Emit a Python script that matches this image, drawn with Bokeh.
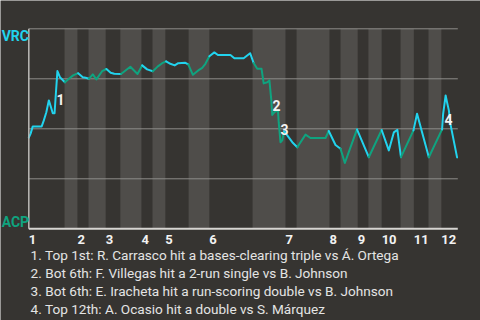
from bokeh.plotting import figure
from bokeh.models import Range1d
from bokeh.embed import file_html
from bokeh.resources import INLINE
from bokeh.core.properties import value

# ---------------- data ----------------
# game progress (plays, 0..120) and VRC win probability (%)
play_x = [0.0, 0.5, 1.1, 3.6, 4.2, 4.9, 5.6, 6.2, 6.7, 7.2, 7.5, 8.0, 8.7, 10.1, 11.2, 12.4,
          13.8, 15.1, 15.9, 16.8, 17.9, 18.9, 20.5, 21.7, 22.9, 23.9, 25.8, 28.4, 30.4, 31.7,
          33.1, 34.7, 36.1, 37.3, 38.4, 39.6, 40.8, 41.8, 43.8, 44.6, 45.9, 47.4, 48.5, 49.4,
          50.5, 51.9, 52.9, 56.4, 57.5, 60.1, 61.9, 62.9, 63.9, 65.1, 65.7, 66.7, 67.3, 67.8,
          68.1, 68.7, 69.7, 69.9, 70.4, 70.9, 71.4, 72.3, 73.7, 75.1, 77.4, 78.8, 83.0, 83.9,
          85.8, 87.2, 88.4, 89.5, 91.8, 95.1, 98.7, 100.7, 102.1, 103.1, 104.1, 107.6, 108.6,
          111.9, 115.6, 115.9, 116.6, 117.0, 117.5, 117.9, 119.8]
vrc_wp = [45.6, 47.6, 51.2, 51.2, 54.2, 58.3, 64.2, 60.8, 57.8, 57.8, 65.8, 78.9, 75.8, 73.3,
          75.0, 76.7, 77.8, 75.8, 75.5, 75.0, 77.2, 74.7, 78.8, 79.9, 78.0, 77.5, 77.4, 81.0,
          77.4, 81.7, 79.7, 78.8, 81.2, 82.8, 83.7, 82.5, 81.7, 82.8, 83.0, 82.2, 77.0, 79.2,
          80.5, 82.5, 86.3, 88.2, 86.9, 86.9, 85.3, 85.3, 87.8, 82.9, 80.0, 80.0, 72.7, 73.3,
          74.2, 65.0, 56.9, 58.3, 59.2, 53.3, 43.3, 44.2, 48.7, 46.7, 43.3, 40.8, 47.1, 45.4,
          45.4, 48.9, 41.9, 40.0, 32.9, 38.3, 49.7, 35.8, 49.4, 39.2, 48.2, 49.5, 35.8, 49.2,
          57.5, 35.8, 49.7, 57.5, 66.7, 63.2, 59.2, 52.7, 35.7]

top_starts = [0.0, 13.6, 21.5, 31.5, 38.2, 50.5, 71.8, 84.1, 92.0, 98.7, 107.7, 115.4]
bottom_starts = [10.0, 16.7, 25.6, 34.6, 44.7, 62.6, 74.9, 87.2, 95.0, 104.0, 111.8]
game_end = 120.0
inning_labels = ["1", "2", "3", "4", "5", "6", "7", "8", "9", "10", "11", "12"]
wp_grid = [25, 50, 75, 100]

event_ids = ["1", "2", "3", "4"]
event_x = [8.9, 69.3, 71.5, 117.4]
event_wp = [64.5, 61.7, 49.7, 54.7]
event_texts = [
    "1. Top 1st: R. Carrasco hit a bases-clearing triple vs Á. Ortega",
    "2. Bot 6th: F. Villegas hit a 2-run single vs B. Johnson",
    "3. Bot 6th: E. Iracheta hit a run-scoring double vs B. Johnson",
    "4. Top 12th: A. Ocasio hit a double vs S. Márquez",
]
away_team, home_team = "VRC", "ACP"

# ---------------- styling ----------------
BG = "#363431"
BAND = "#4f4d4a"
CYAN = "#22d3ee"
GREEN = "#0fa37f"
FONT = "Roboto"

# the frame covers the whole canvas; the chart occupies 0..120 x 0..100 inside it
p = figure(width=480, height=320, output_backend="svg", toolbar_location=None,
           x_range=Range1d(-7.92, 126.35), y_range=Range1d(-45.85, 114.15),
           x_axis_location=None, y_axis_location=None,
           min_border_left=0, min_border_right=0, min_border_top=0, min_border_bottom=0)
p.background_fill_color = BG
p.border_fill_color = BG
p.outline_line_color = None
p.grid.visible = False

# bottom-half bands
band_right = top_starts[1:]
p.quad(left=bottom_starts, right=band_right, bottom=0, top=100,
       fill_color=BAND, line_color=None)

# horizontal grid lines
p.segment(x0=[0] * len(wp_grid), x1=[game_end] * len(wp_grid), y0=wp_grid, y1=wp_grid,
          line_color="#8e8c89", line_width=1)

# colour each segment by half inning (top = away/cyan, bottom = home/green)
def half_of(x):
    h = 0
    for i, t in enumerate(top_starts):
        if x >= t:
            h = 2 * i
        if i < len(bottom_starts) and x >= bottom_starts[i]:
            h = 2 * i + 1
    return h

runs_x, runs_y, runs_c = [], [], []
cur_c = None
for i in range(len(play_x) - 1):
    mid = (play_x[i] + play_x[i + 1]) / 2
    c = CYAN if half_of(mid) % 2 == 0 else GREEN
    if c != cur_c:
        runs_x.append([play_x[i]])
        runs_y.append([vrc_wp[i]])
        runs_c.append(c)
        cur_c = c
    runs_x[-1].append(play_x[i + 1])
    runs_y[-1].append(vrc_wp[i + 1])

p.multi_line(xs=runs_x, ys=runs_y, line_color=runs_c, line_width=2,
             line_join="round", line_cap="round")

# frame lines (left and bottom)
p.segment(x0=[0], x1=[0], y0=[0], y1=[100], line_color="#bdbbb8", line_width=1.5)
p.segment(x0=[0], x1=[game_end], y0=[0], y1=[0], line_color="#d6d4d1", line_width=2)

# inning tick labels
p.text(x=top_starts, y=[-5.4] * len(top_starts), text=inning_labels,
       text_align="left", text_baseline="middle", text_color="#f2f2f2",
       text_font=value(FONT), text_font_style="bold", text_font_size="13px")

# event markers
p.text(x=event_x, y=event_wp, text=event_ids, text_align="center",
       text_baseline="middle", text_color="#f2f2f2", text_font=value(FONT),
       text_font_style="bold", text_font_size="14px")

# event descriptions
p.text(x=[0.5] * len(event_texts), y=[-12.85 - 9 * i for i in range(len(event_texts))],
       text=event_texts, text_align="left", text_baseline="middle",
       text_color="#e4e4e4", text_font=value(FONT), text_font_size="13.6px")

# team labels
p.text(x=[-7.6], y=[96.6], text=[away_team], text_align="left", text_baseline="middle",
       text_color=CYAN, text_font=value(FONT), text_font_style="bold", text_font_size="14px")
p.text(x=[-7.6], y=[3.6], text=[home_team], text_align="left", text_baseline="middle",
       text_color=GREEN, text_font=value(FONT), text_font_style="bold", text_font_size="14px")

open("out.html", "w").write(file_html(p, INLINE))
